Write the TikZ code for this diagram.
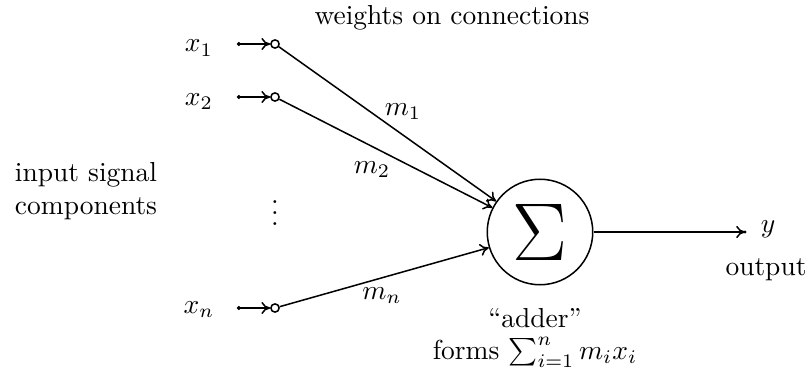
\documentclass[tikz,border=0pt]{standalone}
\usepackage{graphicx}
\usetikzlibrary{arrows.meta}
\begin{document}
\begin{tikzpicture}[x=0.364pt,y=-0.364pt,
  tap/.style={circle,draw,inner sep=0pt,minimum size=3pt,line width=0.55pt},
  sumnode/.style={circle,draw,minimum size=38.4pt,inner sep=0pt,font=\Huge,line width=0.55pt},
  conn/.style={-{To[length=3.2pt,width=4.4pt]},line width=0.55pt},
  feed/.style={{Circle[length=1.4pt]}-{To[length=3.2pt,width=4.4pt]},line width=0.55pt},
  lbl/.style={inner sep=1pt}]
\useasboundingbox (0,0) rectangle (810,379);
\node[lbl,anchor=base] (x1) at (199,52) {$x_1$};
\node[lbl,anchor=base] (x2) at (199,105) {$x_2$};
\node[lbl,anchor=base] (xn) at (199,313) {$x_n$};
\coordinate (s1) at (237,44);
\coordinate (s2) at (237,97);
\coordinate (sn) at (237,308);
\node[tap] (t1) at (275,44) {};
\node[tap] (t2) at (275,97) {};
\node[tap] (tn) at (275,308) {};
\draw[feed] (s1) -- (t1);
\draw[feed] (s2) -- (t2);
\draw[feed] (sn) -- (tn);
\node[inner sep=0pt] (dots) at (275,205) {$\vdots$};
\node[sumnode] (sum) at (540,232) {\scalebox{1.2}{$\Sigma$}};
\draw[conn] (t1) -- (sum.145);
\draw[conn] (t2) -- (sum.153);
\draw[conn] (tn) -- (sum.197);
\node[lbl] (m1) at (403,112) {$m_1$};
\node[lbl] (m2) at (372,170) {$m_2$};
\node[lbl] (mn) at (382,296) {$m_n$};
\coordinate (yend) at (745,232);
\draw[conn] (sum) -- (yend);
\fill (yend) circle (0.6pt);
\node[lbl] (y) at (768,229) {$y$};
\node[lbl] (out) at (766,270) {output};
\node[lbl,align=center] (in) at (86,191) {input signal\\components};
\node[lbl] (w) at (452,18) {weights on connections};
\node[inner sep=0pt,anchor=base] (add1) at (535,327) {``adder''};
\node[inner sep=0pt,anchor=base] (add2) at (535,359) {forms $\sum_{i=1}^n m_i x_i$};
\end{tikzpicture}
\end{document}
